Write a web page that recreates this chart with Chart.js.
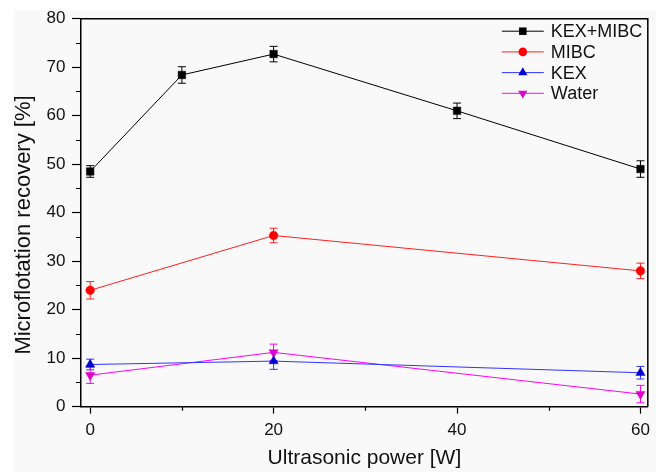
<!DOCTYPE html>
<html lang="en">
<head>
    <meta charset="UTF-8">
    <title>Microflotation recovery vs ultrasonic power</title>
    <script src="https://cdn.jsdelivr.net/npm/chart.js"></script>
    <style>
        html, body { margin: 0; padding: 0; background: #ffffff; }
        #wrap { width: 656px; height: 472px; }
    </style>
</head>
<body>
    <div id="wrap"><canvas id="recChart" width="656" height="472"></canvas></div>

    <script>
        // Data
        const powerFull = [0, 10, 20, 40, 60];   // KEX+MIBC has the extra 10 W and 40 W points
        const powerShort = [0, 20, 60];

        const kexMibc = [48.5, 68.4, 72.7, 61.0, 49.0];
        const kexMibcErr = [1.2, 1.7, 1.6, 1.6, 1.7];

        const mibc = [24.0, 35.3, 28.0];
        const mibcErr = [1.8, 1.5, 1.6];

        const kex = [8.7, 9.4, 7.0];
        const kexErr = [1.1, 1.7, 1.3];

        const water = [6.5, 11.2, 2.6];
        const waterErr = [1.7, 1.7, 1.8];

        const seriesNames = ["KEX+MIBC", "MIBC", "KEX", "Water"];
        const xTickValues = [0, 20, 40, 60];
        const xMinorValues = [10, 30, 50];
        const yTickValues = [0, 10, 20, 30, 40, 50, 60, 70, 80];
        const yMinorValues = [5, 15, 25, 35, 45, 55, 65, 75];
        const yTitle = 'Microflotation recovery [%]';

        const FONT = "'Liberation Sans', Arial, sans-serif";

        const toPts = (xs, ys) => xs.map((x, i) => ({ x: x, y: ys[i] }));

        function drawMarker(ctx, style, x, y, r, rot) {
            ctx.beginPath();
            if (style === 'rect') {
                const s = r * Math.SQRT1_2;
                ctx.rect(x - s, y - s, 2 * s, 2 * s);
            } else if (style === 'circle') {
                ctx.arc(x, y, r, 0, Math.PI * 2);
            } else if (style === 'triangle') {
                const d = rot ? -1 : 1;
                ctx.moveTo(x, y - d * r);
                ctx.lineTo(x + r * 0.866, y + d * r * 0.5);
                ctx.lineTo(x - r * 0.866, y + d * r * 0.5);
                ctx.closePath();
            }
            ctx.fill();
        }

        // error bars, frame, minor ticks, y title and the legend
        const extrasPlugin = {
            id: 'extras',
            beforeDraw(chart) {
                const ctx = chart.ctx;
                ctx.save();
                ctx.fillStyle = '#ffffff';
                ctx.fillRect(0, 0, chart.width, chart.height);
                ctx.fillStyle = '#f9f9f9';
                ctx.fillRect(14, 10, chart.width - 14, chart.height - 10);
                ctx.restore();
            },
            beforeDatasetsDraw(chart) {
                const ctx = chart.ctx;
                const ys = chart.scales.y;
                ctx.save();
                chart.data.datasets.forEach((ds, di) => {
                    const meta = chart.getDatasetMeta(di);
                    ctx.strokeStyle = ds.borderColor;
                    ctx.lineWidth = 1;
                    meta.data.forEach((pt, i) => {
                        const v = ds.data[i].y;
                        const e = ds.errors[i];
                        const yTop = ys.getPixelForValue(v + e);
                        const yBot = ys.getPixelForValue(v - e);
                        ctx.beginPath();
                        ctx.moveTo(pt.x, yTop);
                        ctx.lineTo(pt.x, yBot);
                        ctx.moveTo(pt.x - 4, yTop);
                        ctx.lineTo(pt.x + 4, yTop);
                        ctx.moveTo(pt.x - 4, yBot);
                        ctx.lineTo(pt.x + 4, yBot);
                        ctx.stroke();
                    });
                });
                ctx.restore();
            },
            afterDraw(chart) {
                const ctx = chart.ctx;
                const a = chart.chartArea;
                const xs = chart.scales.x;
                const ys = chart.scales.y;
                ctx.save();
                ctx.strokeStyle = '#000';
                ctx.lineWidth = 1.5;
                ctx.beginPath();
                ctx.moveTo(a.left, a.top);
                ctx.lineTo(a.right, a.top);
                ctx.lineTo(a.right, a.bottom);
                ctx.stroke();

                ctx.lineWidth = 1.2;
                ctx.beginPath();
                yMinorValues.forEach(v => {
                    const py = Math.round(ys.getPixelForValue(v)) + 0.5;
                    ctx.moveTo(a.left, py);
                    ctx.lineTo(a.left - 5, py);
                });
                xMinorValues.forEach(v => {
                    const px = Math.round(xs.getPixelForValue(v)) + 0.5;
                    ctx.moveTo(px, a.bottom);
                    ctx.lineTo(px, a.bottom + 4);
                });
                ctx.stroke();

                // y axis title, sits a bit below the axis middle in the original
                ctx.save();
                ctx.translate(24, 225);
                ctx.rotate(-Math.PI / 2);
                ctx.font = '22px ' + FONT;
                ctx.fillStyle = '#111';
                ctx.textAlign = 'center';
                ctx.textBaseline = 'middle';
                ctx.fillText(yTitle, 0, 0);
                ctx.restore();

                // legend: line + marker + name
                ctx.font = '18px ' + FONT;
                ctx.textBaseline = 'middle';
                ctx.textAlign = 'left';
                chart.data.datasets.forEach((ds, i) => {
                    const y = a.top + 12.5 + i * 20.7;
                    const x0 = a.right - 146;
                    ctx.strokeStyle = ds.borderColor;
                    ctx.lineWidth = 1;
                    ctx.beginPath();
                    ctx.moveTo(x0, y);
                    ctx.lineTo(x0 + 42, y);
                    ctx.stroke();
                    ctx.fillStyle = ds.pointBackgroundColor;
                    drawMarker(ctx, ds.pointStyle, x0 + 21, y, ds.pointRadius, ds.pointRotation);
                    ctx.fillStyle = '#111';
                    ctx.fillText(ds.label, x0 + 49, y + 1);
                });
                ctx.restore();
            }
        };

        const ctx = document.getElementById('recChart').getContext('2d');

        new Chart(ctx, {
            type: 'line',
            data: {
                datasets: [
                    {
                        label: seriesNames[0],
                        data: toPts(powerFull, kexMibc),
                        errors: kexMibcErr,
                        borderColor: '#000000',
                        pointBackgroundColor: '#000000',
                        pointBorderColor: '#000000',
                        pointStyle: 'rect',
                        pointRadius: 5.3,
                        pointRotation: 0
                    },
                    {
                        label: seriesNames[1],
                        data: toPts(powerShort, mibc),
                        errors: mibcErr,
                        borderColor: '#ff2020',
                        pointBackgroundColor: '#ff0000',
                        pointBorderColor: '#ff0000',
                        pointStyle: 'circle',
                        pointRadius: 4.3,
                        pointRotation: 0
                    },
                    {
                        label: seriesNames[2],
                        data: toPts(powerShort, kex),
                        errors: kexErr,
                        borderColor: '#3333ff',
                        pointBackgroundColor: '#0000cc',
                        pointBorderColor: '#0000cc',
                        pointStyle: 'triangle',
                        pointRadius: 5.3,
                        pointRotation: 0
                    },
                    {
                        label: seriesNames[3],
                        data: toPts(powerShort, water),
                        errors: waterErr,
                        borderColor: '#ff00ff',
                        pointBackgroundColor: '#e000cc',
                        pointBorderColor: '#e000cc',
                        pointStyle: 'triangle',
                        pointRadius: 5.3,
                        pointRotation: 180
                    }
                ].map(d => Object.assign(d, { borderWidth: 1, pointBorderWidth: 0.5, fill: false, tension: 0 }))
            },
            options: {
                responsive: false,
                animation: false,
                devicePixelRatio: 1,
                layout: { padding: { top: 18.7, right: 3, left: 0, bottom: 0 } },
                plugins: {
                    legend: { display: false },
                    tooltip: { enabled: false }
                },
                scales: {
                    x: {
                        type: 'linear',
                        min: -1,
                        max: 60.8,
                        afterBuildTicks: s => { s.ticks = xTickValues.map(v => ({ value: v })); },
                        afterFit: s => { s.height = 472 - 406.7; },
                        ticks: { font: { family: FONT, size: 17 }, color: '#111', padding: 6 },
                        grid: { drawOnChartArea: false, drawTicks: true, tickLength: 7, tickColor: '#000', tickWidth: 1.2 },
                        border: { display: true, color: '#000', width: 1.5 },
                        title: {
                            display: true,
                            text: 'Ultrasonic power [W]',
                            font: { family: FONT, size: 21 },
                            color: '#111',
                            padding: { top: 0, bottom: 1.5 }
                        }
                    },
                    y: {
                        type: 'linear',
                        min: 0,
                        max: 80,
                        afterBuildTicks: s => { s.ticks = yTickValues.map(v => ({ value: v })); },
                        afterFit: s => { s.width = 81; },
                        ticks: { font: { family: FONT, size: 17 }, color: '#111', padding: 6.5 },
                        grid: { drawOnChartArea: false, drawTicks: true, tickLength: 9, tickColor: '#000', tickWidth: 1.2 },
                        border: { display: true, color: '#000', width: 1.5 },
                        title: { display: false }
                    }
                }
            },
            plugins: [extrasPlugin]
        });
    </script>
</body>
</html>
